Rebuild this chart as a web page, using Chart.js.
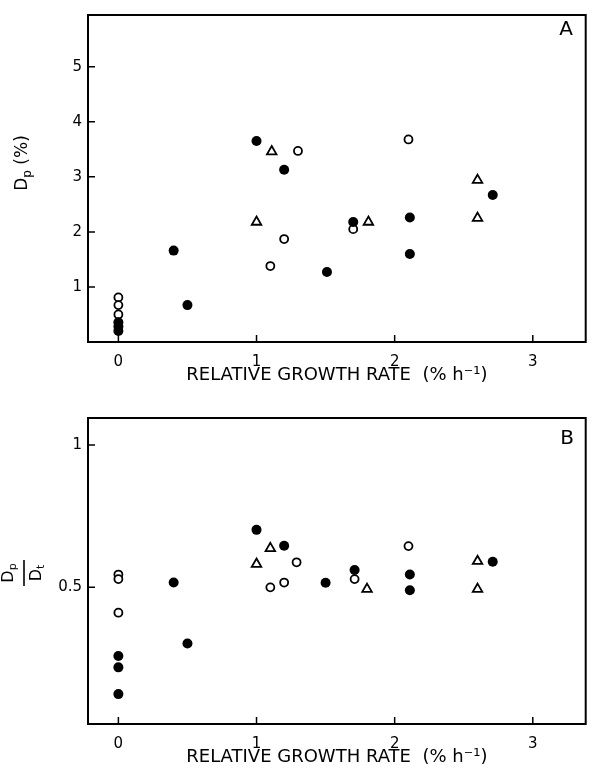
<!DOCTYPE html>
<html>
<head>
<meta charset="utf-8">
<script src="https://cdn.jsdelivr.net/npm/chart.js@4.4.0/dist/chart.umd.min.js"></script>
<style>
  body { margin: 0; background: #fff; }
  .panel { position: absolute; left: 0; width: 593px; }
  #panelA { top: 0; height: 390px; }
  #panelB { top: 390px; height: 382px; }
</style>
</head>
<body>
<div class="panel" id="panelA"><canvas id="chartA" width="593" height="390"></canvas></div>
<div class="panel" id="panelB"><canvas id="chartB" width="593" height="382"></canvas></div>
<script>
const xTicks = [0, 1, 2, 3];
const yTicksA = [1, 2, 3, 4, 5];
const yTicksB = [0.5, 1];

// panel A: Dp (%)
const aFilledX = [0, 0, 0, 0.4, 0.5, 1.0, 1.2, 1.51, 1.7, 2.11, 2.11, 2.71];
const aFilledY = [0.36, 0.28, 0.2, 1.66, 0.67, 3.65, 3.13, 1.27, 2.18, 2.26, 1.6, 2.67];
const aOpenX = [0, 0, 0, 1.1, 1.2, 1.3, 1.7, 2.1];
const aOpenY = [0.81, 0.67, 0.5, 1.38, 1.87, 3.47, 2.05, 3.68];
const aTriX = [1.0, 1.11, 1.81, 2.6, 2.6];
const aTriY = [2.18, 3.46, 2.18, 2.94, 2.25];

// panel B: Dp / Dt
const bFilledX = [0, 0, 0, 0.4, 0.5, 1.0, 1.2, 1.5, 1.71, 2.11, 2.11, 2.71];
const bFilledY = [0.259, 0.219, 0.125, 0.517, 0.303, 0.702, 0.646, 0.516, 0.561, 0.545, 0.49, 0.59];
const bOpenX = [0, 0, 0, 1.1, 1.2, 1.29, 1.71, 2.1];
const bOpenY = [0.545, 0.529, 0.411, 0.5, 0.517, 0.588, 0.529, 0.645];
const bTriX = [1.0, 1.1, 1.8, 2.6, 2.6];
const bTriY = [0.582, 0.637, 0.494, 0.592, 0.494];

const FONT = '"DejaVu Sans"';

const filledStyle = { pointStyle: 'circle', pointRadius: 5, backgroundColor: '#000', borderColor: '#000', borderWidth: 0 };
const openStyle = { pointStyle: 'circle', pointRadius: 4, backgroundColor: '#fff', borderColor: '#000', borderWidth: 1.8 };
const triStyle = { pointStyle: 'triangle', pointRadius: 5.5, backgroundColor: '#fff', borderColor: '#000', borderWidth: 1.8 };

function scatterSet(xs, ys, style) {
  return Object.assign({ data: xs.map((x, i) => ({ x: x, y: ys[i] })) }, style);
}

function fixedTicks(values) {
  return function (scale) { scale.ticks = values.map(v => ({ value: v })); };
}

function drawParts(ctx, parts, y) {
  let w = 0;
  parts.forEach(p => { ctx.font = p.size + 'px ' + FONT; p.w = ctx.measureText(p.t).width; w += p.w; });
  let x = -w / 2;
  parts.forEach(p => { ctx.font = p.size + 'px ' + FONT; ctx.fillText(p.t, x, y + p.dy); x += p.w; });
}

const framePlugin = {
  id: 'frame',
  beforeDatasetsDraw(chart) {
    const { ctx, chartArea: a, scales } = chart;
    ctx.save();
    ctx.strokeStyle = '#000';
    ctx.lineWidth = 2;
    ctx.strokeRect(a.left, a.top, a.right - a.left, a.bottom - a.top);
    ctx.lineWidth = 1.5;
    ctx.beginPath();
    scales.x.ticks.forEach(t => {
      const px = scales.x.getPixelForValue(t.value);
      ctx.moveTo(px, a.bottom);
      ctx.lineTo(px, a.bottom - 7);
    });
    scales.y.ticks.forEach(t => {
      const py = scales.y.getPixelForValue(t.value);
      ctx.moveTo(a.left, py);
      ctx.lineTo(a.left + 7, py);
    });
    ctx.stroke();
    ctx.restore();
  },
  afterDraw(chart, args, opts) {
    const ctx = chart.ctx;
    ctx.save();
    ctx.fillStyle = '#000';
    ctx.font = '20px ' + FONT;
    ctx.textAlign = 'center';
    ctx.textBaseline = 'middle';
    ctx.fillText(opts.letter, opts.letterX, opts.letterY);

    // rotated y-axis title with subscripts
    ctx.translate(opts.titleX, opts.titleY);
    ctx.rotate(-Math.PI / 2);
    ctx.textAlign = 'left';
    ctx.textBaseline = 'alphabetic';
    if (opts.yTitle === 'pct') {
      drawParts(ctx, [
        { t: 'D', size: 17, dy: 0 },
        { t: 'p', size: 12, dy: 4 },
        { t: ' (%)', size: 17, dy: 0 }
      ], 0);
    } else {
      drawParts(ctx, [{ t: 'D', size: 16, dy: 0 }, { t: 'p', size: 11, dy: 3 }], -11);
      drawParts(ctx, [{ t: 'D', size: 16, dy: 0 }, { t: 't', size: 11, dy: 3 }], 17);
      ctx.lineWidth = 1.6;
      ctx.beginPath();
      ctx.moveTo(-13, 0);
      ctx.lineTo(13, 0);
      ctx.stroke();
    }
    ctx.restore();
  }
};

function makeChart(id, sets, yMin, yMax, yTicks, xHeight, pad, frameOpts) {
  return new Chart(document.getElementById(id), {
    type: 'scatter',
    data: { datasets: sets },
    plugins: [framePlugin],
    options: {
      responsive: false,
      animation: false,
      layout: { padding: pad },
      plugins: { legend: { display: false }, tooltip: { enabled: false }, frame: frameOpts },
      scales: {
        x: {
          type: 'linear', min: -0.22, max: 3.383,
          afterBuildTicks: fixedTicks(xTicks),
          afterFit: s => { s.height = xHeight; },
          grid: { display: false, drawTicks: false },
          border: { display: false },
          ticks: { padding: 11, color: '#000', font: { family: FONT, size: 15 }, maxRotation: 0, autoSkip: false, callback: v => String(v) },
          title: { display: true, text: 'RELATIVE GROWTH RATE  (% h⁻¹)', color: '#000', font: { family: FONT, size: 18 }, padding: { top: 0, bottom: 4 } }
        },
        y: {
          type: 'linear', min: yMin, max: yMax,
          afterBuildTicks: fixedTicks(yTicks),
          afterFit: s => { s.width = 88; },
          grid: { display: false, drawTicks: false },
          border: { display: false },
          ticks: { padding: 6, color: '#000', font: { family: FONT, size: 15 }, autoSkip: false, callback: v => String(v) }
        }
      }
    }
  });
}

makeChart('chartA', [
  scatterSet(aFilledX, aFilledY, filledStyle),
  scatterSet(aOpenX, aOpenY, openStyle),
  scatterSet(aTriX, aTriY, triStyle)
], 0, 5.94, yTicksA, 48, { left: 0, top: 9, right: 6, bottom: 0 },
  { letter: 'A', letterX: 566, letterY: 30, yTitle: 'pct', titleX: 27, titleY: 163 });

makeChart('chartB', [
  scatterSet(bFilledX, bFilledY, filledStyle),
  scatterSet(bOpenX, bOpenY, openStyle),
  scatterSet(bTriX, bTriY, triStyle)
], 0.02, 1.095, yTicksB, 48, { left: 0, top: 28, right: 6, bottom: 0 },
  { letter: 'B', letterX: 567, letterY: 49, yTitle: 'ratio', titleX: 24, titleY: 183 });
</script>
</body>
</html>
